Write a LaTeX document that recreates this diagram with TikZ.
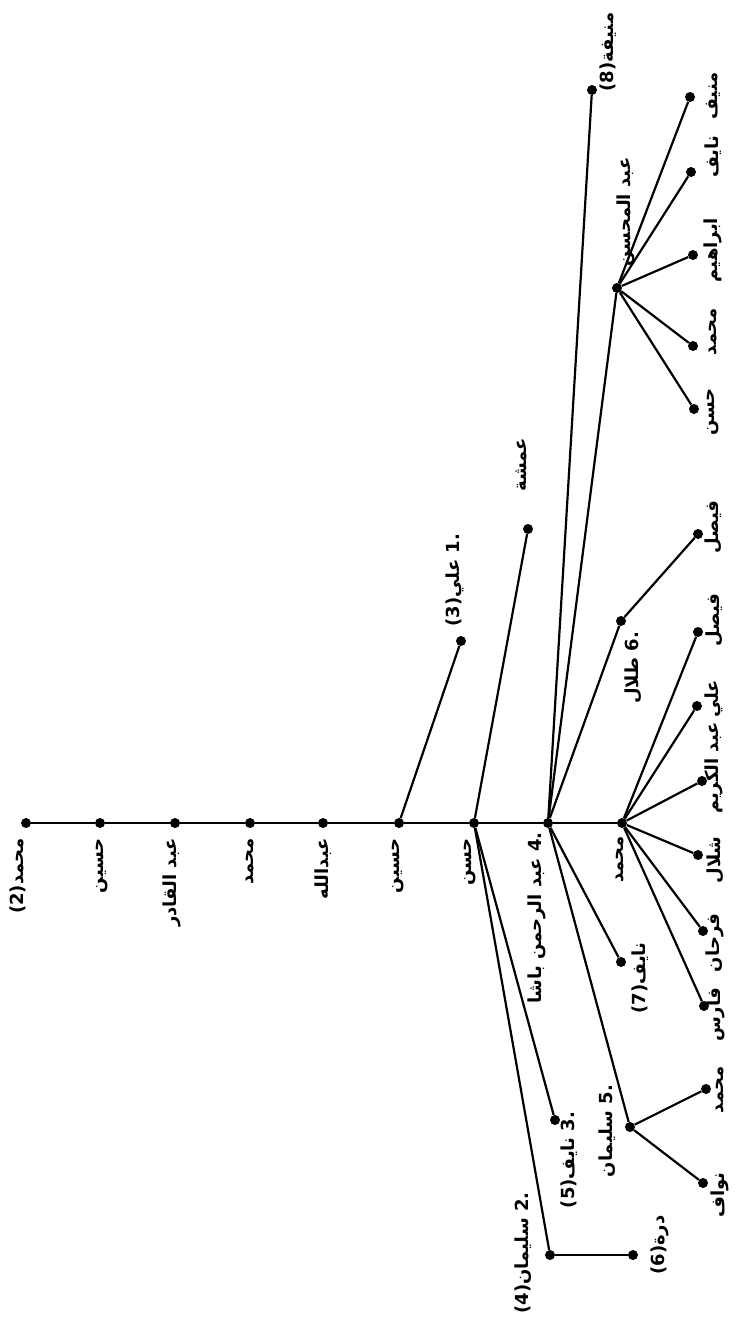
\documentclass[tikz,border=0pt]{standalone}
\usepackage{fontspec}
\usepackage{graphicx}
\TeXXeTstate=1
\newfontfamily\arfont[Script=Arabic]{DejaVu Sans}
\newcommand{\RL}[1]{\beginR #1\endR}
\newcommand{\sx}{1.0}
\newcommand{\lt}[1]{\scalebox{\sx}[1]{#1}}
\tikzset{
  dot/.style={circle,fill=black,inner sep=0pt,minimum size=10pt},
  lbl/.style={rotate=90,inner sep=0pt,font=\arfont\bfseries\fontsize{18}{18}\selectfont},
  edge/.style={line width=2.2pt}
}
\begin{document}
\begin{tikzpicture}[x=1pt,y=-1pt]
\useasboundingbox[fill=white] (0,0) rectangle (745,1323);
% main line dots
\node[dot] (m1) at (26,823) {};
\node[dot] (m2) at (100,823) {};
\node[dot] (m3) at (175,823) {};
\node[dot] (m4) at (250,823) {};
\node[dot] (m5) at (323,823) {};
\node[dot] (m6) at (399,823) {};
\node[dot] (m7) at (474,823) {};
\node[dot] (m8) at (548,823) {};
\node[dot] (m9) at (622,823) {};
% other dots
\node[dot] (ali) at (461,641) {};
\node[dot] (amsha) at (528,529) {};
\node[dot] (sul2) at (550,1255) {};
\node[dot] (durra) at (633,1255) {};
\node[dot] (nay5) at (555,1120) {};
\node[dot] (munifa) at (592,90) {};
\node[dot] (abdmuh) at (617,288) {};
\node[dot] (talal) at (621,621) {};
\node[dot] (nay7) at (621,962) {};
\node[dot] (sul5) at (630,1127) {};
\node[dot] (munif) at (690,97) {};
\node[dot] (nayef) at (691,172) {};
\node[dot] (ibr) at (693,255) {};
\node[dot] (moh1) at (693,346) {};
\node[dot] (hasan) at (694,409) {};
\node[dot] (fai1) at (698,534) {};
\node[dot] (fai2) at (698,632) {};
\node[dot] (ali2) at (697,706) {};
\node[dot] (abdk) at (702,781) {};
\node[dot] (shal) at (698,855) {};
\node[dot] (farh) at (703,931) {};
\node[dot] (fares) at (704,1006) {};
\node[dot] (moh2) at (706,1089) {};
\node[dot] (nawaf) at (703,1183) {};
% connectors
\draw[edge] (m1)--(m2)--(m3)--(m4)--(m5)--(m6)--(m7)--(m8)--(m9);
\draw[edge] (m6)--(ali);
\draw[edge] (m7)--(amsha);
\draw[edge] (m7)--(sul2);
\draw[edge] (m7)--(nay5);
\draw[edge] (sul2)--(durra);
\draw[edge] (m8)--(munifa);
\draw[edge] (m8)--(abdmuh);
\draw[edge] (m8)--(talal);
\draw[edge] (m8)--(nay7);
\draw[edge] (m8)--(sul5);
\foreach \c in {munif,nayef,ibr,moh1,hasan} \draw[edge] (abdmuh)--(\c);
\draw[edge] (talal)--(fai1);
\foreach \c in {fai2,ali2,abdk,shal,farh,fares} \draw[edge] (m9)--(\c);
\draw[edge] (sul5)--(moh2);
\draw[edge] (sul5)--(nawaf);
% labels
\node[lbl,anchor=east] (l1) at (18,838) {\lt{(2)\RL{محمد}}};
\node[lbl,anchor=east] (l2) at (102,838) {\lt{\RL{حسين}}};
\node[lbl,anchor=east] (l3) at (172,838) {\lt{\RL{عبد القادر}}};
\node[lbl,anchor=east] (l4) at (250,838) {\lt{\RL{محمد}}};
\node[lbl,anchor=east] (l5) at (323,838) {\lt{\RL{عبدالله}}};
\node[lbl,anchor=east] (l6) at (398,838) {\lt{\RL{حسين}}};
\node[lbl,anchor=east] (l7) at (470,838) {\lt{\RL{حسن}}};
\node[lbl,anchor=east] (l8) at (537,832) {\lt{\RL{عبد الرحمن باشا} .4}};
\node[lbl,anchor=east] (l9) at (620,836) {\lt{\RL{محمد}}};
\node[lbl] (lali) at (455,580) {\lt{(3)\RL{علي} .1}};
\node[lbl] (lamsha) at (521,465) {\lt{\RL{عمشة}}};
\node[lbl] (lsul2) at (523,1253) {\lt{(4)\RL{سليمان} .2}};
\node[lbl] (lnay5) at (569,1160) {\lt{(5)\RL{نايف} .3}};
\node[lbl] (ldurra) at (660,1245) {\lt{(6)\RL{درة}}};
\node[lbl] (lmunifa) at (608,52) {\lt{(8)\RL{منيفة}}};
\node[lbl] (labdmuh) at (626,212) {\lt{\RL{عبد المحسن}}};
\node[lbl] (ltalal) at (633,668) {\lt{\RL{طلال} .6}};
\node[lbl] (lnay7) at (640,978) {\lt{(7)\RL{نايف}}};
\node[lbl] (lsul5) at (607,1131) {\lt{\RL{سليمان} .5}};
\node[lbl] (lmunif) at (713,96) {\lt{\RL{منيف}}};
\node[lbl] (lnayef) at (713,157) {\lt{\RL{نايف}}};
\node[lbl] (libr) at (713,250) {\lt{\RL{ابراهيم}}};
\node[lbl] (lmoh1) at (713,332) {\lt{\RL{محمد}}};
\node[lbl] (lhasan) at (713,412) {\lt{\RL{حسن}}};
\node[lbl] (lfai1) at (713,527) {\lt{\RL{فيصل}}};
\node[lbl] (lfai2) at (714,620) {\lt{\RL{فيصل}}};
\node[lbl] (lali2) at (714,699) {\lt{\RL{علي}}};
\node[lbl] (labdk) at (714,768) {\lt{\RL{عبد الكريم}}};
\node[lbl] (lshal) at (715,860) {\lt{\RL{شلال}}};
\node[lbl] (lfarh) at (715,943) {\lt{\RL{فرحان}}};
\node[lbl] (lfares) at (716,1015) {\lt{\RL{فارس}}};
\node[lbl] (lmoh2) at (720,1090) {\lt{\RL{محمد}}};
\node[lbl] (lnawaf) at (720,1195) {\lt{\RL{نواف}}};
\end{tikzpicture}
\end{document}
